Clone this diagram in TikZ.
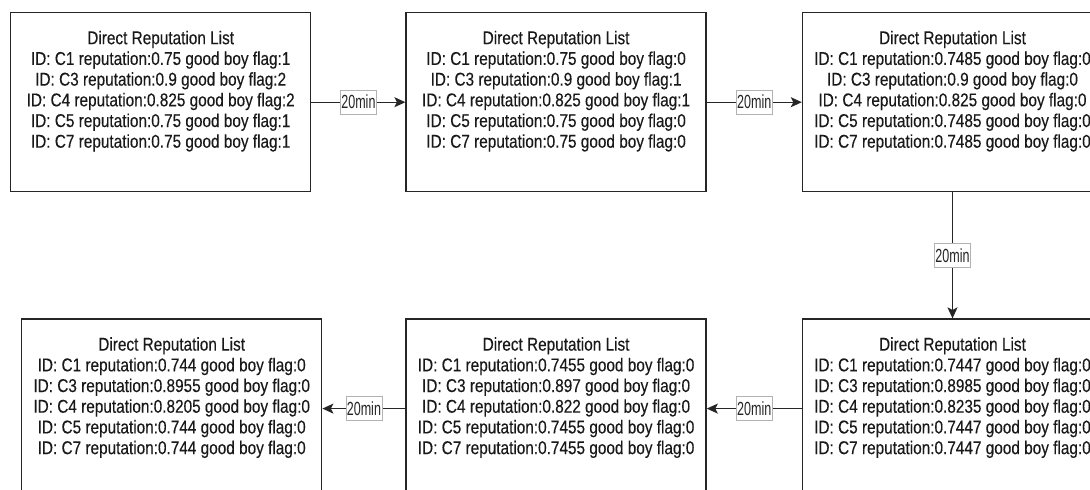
\documentclass[tikz,border=0pt]{standalone}
\usepackage{fontspec}
\setmainfont[FakeStretch=0.83, FakeBold=0.25]{Liberation Sans}
\newfontfamily\tagfont[FakeStretch=0.66]{Liberation Sans}
\usetikzlibrary{arrows.meta, positioning}

\begin{document}
\begin{tikzpicture}[
      x=1pt, y=-1pt,
      node distance=95pt and 95pt,
      replist/.style={rectangle, draw=black!85, line width=1.4pt, minimum width=300pt, minimum height=179pt,
        inner xsep=0pt, inner ysep=0pt, align=center, text height=135pt, text depth=44pt,
        text=black!90, font=\fontsize{18.5}{20.7}\selectfont},
      arrow/.style={-{Stealth[length=11pt, width=10pt, inset=2.5pt]}, line width=1.3pt, draw=black!85},
      tlabel/.style={rectangle, draw=black!30, line width=0.6pt, fill=white, inner xsep=1pt, inner ysep=0pt,
        minimum height=24pt, text=black!85, font=\tagfont\fontsize{19}{20}\selectfont}
    ]
    \useasboundingbox (0,0) rectangle (1090,490);

    \node[replist, anchor=north west] (b1) at (10,12) {Direct Reputation List\\
      ID: C1 reputation:0.75 good boy flag:1\\
      ID: C3 reputation:0.9 good boy flag:2\\
      ID: C4 reputation:0.825 good boy flag:2\\
      ID: C5 reputation:0.75 good boy flag:1\\
      ID: C7 reputation:0.75 good boy flag:1};
    \node[replist, right=94pt of b1] (b2) {Direct Reputation List\\
      ID: C1 reputation:0.75 good boy flag:0\\
      ID: C3 reputation:0.9 good boy flag:1\\
      ID: C4 reputation:0.825 good boy flag:1\\
      ID: C5 reputation:0.75 good boy flag:0\\
      ID: C7 reputation:0.75 good boy flag:0};
    \node[replist, right=of b2] (b3) {Direct Reputation List\\
      ID: C1 reputation:0.7485 good boy flag:0\\
      ID: C3 reputation:0.9 good boy flag:0\\
      ID: C4 reputation:0.825 good boy flag:0\\
      ID: C5 reputation:0.7485 good boy flag:0\\
      ID: C7 reputation:0.7485 good boy flag:0};
    \node[replist, below=126pt of b3] (b4) {Direct Reputation List\\
      ID: C1 reputation:0.7447 good boy flag:0\\
      ID: C3 reputation:0.8985 good boy flag:0\\
      ID: C4 reputation:0.8235 good boy flag:0\\
      ID: C5 reputation:0.7447 good boy flag:0\\
      ID: C7 reputation:0.7447 good boy flag:0};
    \node[replist, left=of b4] (b5) {Direct Reputation List\\
      ID: C1 reputation:0.7455 good boy flag:0\\
      ID: C3 reputation:0.897 good boy flag:0\\
      ID: C4 reputation:0.822 good boy flag:0\\
      ID: C5 reputation:0.7455 good boy flag:0\\
      ID: C7 reputation:0.7455 good boy flag:0};
    \node[replist, left=83pt of b5] (b6) {Direct Reputation List\\
      ID: C1 reputation:0.744 good boy flag:0\\
      ID: C3 reputation:0.8955 good boy flag:0\\
      ID: C4 reputation:0.8205 good boy flag:0\\
      ID: C5 reputation:0.744 good boy flag:0\\
      ID: C7 reputation:0.744 good boy flag:0};

    % every 20 minutes the list is updated
    \draw[arrow] (b1) -- node[tlabel] (t1) {20min} (b2);
    \draw[arrow] (b2) -- node[tlabel] (t2) {20min} (b3);
    \draw[arrow] (b3) -- node[tlabel] (t3) {20min} (b4);
    \draw[arrow] (b4) -- node[tlabel] (t4) {20min} (b5);
    \draw[arrow] (b5) -- node[tlabel] (t5) {20min} (b6);
  \end{tikzpicture}
\end{document}
